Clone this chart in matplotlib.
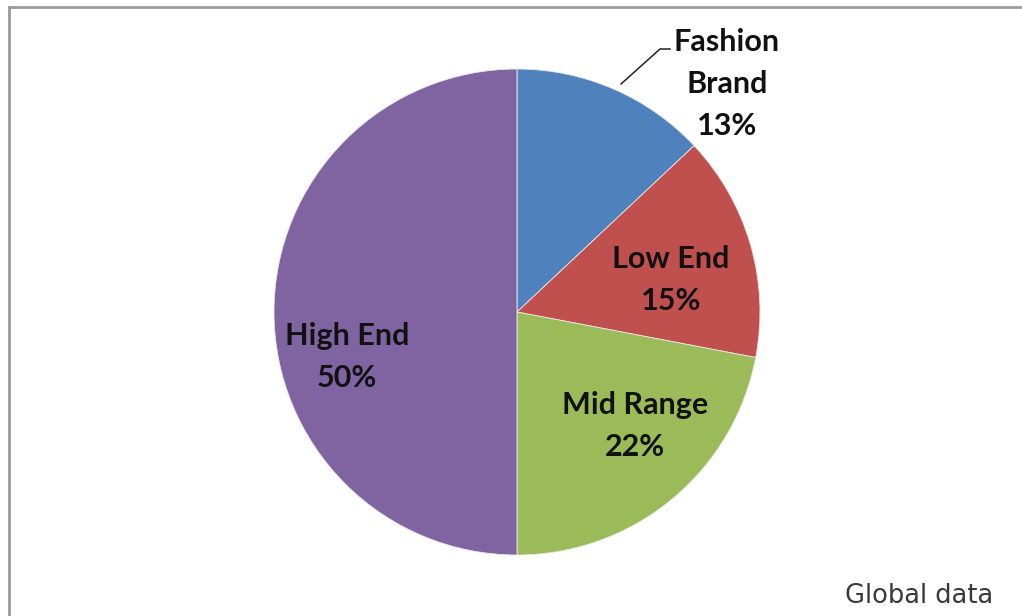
import matplotlib
matplotlib.use("Agg")
import matplotlib.pyplot as plt
from matplotlib.patches import Rectangle

categories = ["Fashion\nBrand", "Low End", "Mid Range", "High End"]
shares = [13, 15, 22, 50]
colors = ["#4F81BD", "#C0504D", "#9BBB59", "#8064A2"]
footnote = "Global data"

W, H = 1022, 616
fig = plt.figure(figsize=(W / 100, H / 100), dpi=100)
fig.patch.set_facecolor("white")

# outer frame
fig.add_artist(Rectangle((9 / W, -0.05), 1.2, 1 - 7 / H + 0.05, transform=fig.transFigure,
                         fill=False, edgecolor="#9a9a9a", linewidth=2))

cx, cy, r = 517, 312, 243
ax = fig.add_axes([(cx - r) / W, (H - cy - r) / H, 2 * r / W, 2 * r / H])

wedges, _ = ax.pie(shares, colors=colors, startangle=90, counterclock=False,
                   radius=1.0, wedgeprops=dict(linewidth=0.6, edgecolor="#e8e8e8"))
ax.set_aspect("auto")
ax.set_xlim(-1, 1)
ax.set_ylim(-1, 1)
ax.axis("off")

font = dict(family=["Lato", "DejaVu Sans"], fontweight="bold", fontsize=22,
            color="#111111", ha="center", va="center", linespacing=1.6)

def px(x, y):
    return ((x - cx) / r, (cy - y) / r)

label_pos = [(727, 84), (671, 280), (635, 426), (347, 357)]
for name, val, (x, y) in zip(categories, shares, label_pos):
    ax.text(*px(x, y), f"{name}\n{val}%", **font)

# leader line for the outside label
pts = [px(621, 84), px(660, 49), px(670, 49)]
ax.plot([p[0] for p in pts], [p[1] for p in pts], color="#222222",
        linewidth=1.1, clip_on=False)

fig.text(993 / W, 1 - 596 / H, footnote, ha="right", va="center", fontsize=18.5,
         family=["DejaVu Sans"], fontweight="normal", color="#3a3a3a")

fig.savefig("out.png", dpi=100)
